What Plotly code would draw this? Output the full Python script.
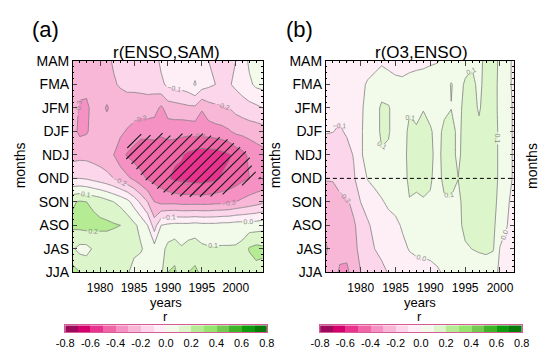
import numpy as np
import plotly.graph_objects as go

# ---------------- data ----------------
months = ["JJA", "JAS", "ASO", "SON", "OND", "NDJ", "DJF", "JFM", "FMA", "MAM"]
years_a = list(range(1976, 2005))
years_b = list(range(1975, 2003))

# r(ENSO,SAM): one list per month row (bottom JJA -> top MAM), one value per year
a_JJA = [0.24, 0.20, 0.17, 0.15, 0.14, 0.14, 0.13, 0.12, 0.11, 0.07, 0.05, 0.04, 0.05, 0.08, 0.20,
         0.22, 0.13, 0.20, 0.22, 0.18, 0.13, 0.12, 0.12, 0.12, 0.13, 0.13, 0.14, 0.17, 0.17]
a_JAS = [0.11, 0.07, 0.07, 0.11, 0.14, 0.14, 0.14, 0.14, 0.13, 0.12, 0.11, 0.07, 0.04, 0.06, 0.13,
         0.15, 0.11, 0.14, 0.15, 0.12, 0.11, 0.11, 0.11, 0.11, 0.11, 0.13, 0.21, 0.23, 0.22]
a_ASO = [0.22, 0.23, 0.24, 0.23, 0.22, 0.22, 0.21, 0.20, 0.16, 0.12, 0.07, 0.00, -0.15, 0.00, 0.02,
         0.03, 0.03, 0.03, 0.04, 0.03, 0.03, 0.03, 0.04, 0.04, 0.05, 0.05, 0.05, 0.05, 0.06]
a_SON = [0.19, 0.21, 0.20, 0.18, 0.16, 0.13, 0.10, 0.07, 0.03, -0.04, -0.12, -0.20, -0.30, -0.33, -0.33,
         -0.33, -0.34, -0.34, -0.34, -0.34, -0.34, -0.33, -0.33, -0.32, -0.30, -0.28, -0.26, -0.24, -0.22]
a_OND = [-0.10, -0.10, -0.11, -0.13, -0.15, -0.17, -0.20, -0.24, -0.28, -0.32, -0.37, -0.41, -0.43, -0.45, -0.49,
         -0.52, -0.53, -0.53, -0.54, -0.54, -0.53, -0.52, -0.49, -0.47, -0.45, -0.42, -0.40, -0.39, -0.38]
a_NDJ = [-0.24, -0.23, -0.23, -0.24, -0.25, -0.27, -0.30, -0.36, -0.41, -0.44, -0.46, -0.46, -0.47, -0.47, -0.47,
         -0.48, -0.49, -0.52, -0.54, -0.55, -0.55, -0.55, -0.53, -0.51, -0.46, -0.43, -0.38, -0.35, -0.33]
a_DJF = [-0.27, -0.32, -0.31, -0.27, -0.25, -0.25, -0.26, -0.28, -0.31, -0.34, -0.37, -0.37, -0.36, -0.38, -0.36,
         -0.36, -0.37, -0.37, -0.36, -0.37, -0.35, -0.34, -0.33, -0.31, -0.28, -0.27, -0.26, -0.25, -0.24]
a_JFM = [-0.26, -0.31, -0.32, -0.27, -0.27, -0.31, -0.27, -0.25, -0.24, -0.24, -0.25, -0.24, -0.26, -0.32, -0.25,
         -0.24, -0.23, -0.22, -0.22, -0.29, -0.24, -0.22, -0.21, -0.20, -0.17, -0.15, -0.13, -0.12, -0.10]
a_FMA = [-0.27, -0.28, -0.27, -0.26, -0.26, -0.24, -0.21, -0.19, -0.18, -0.18, -0.17, -0.17, -0.16, -0.12, -0.08,
         -0.07, -0.06, -0.04, 0.01, -0.05, -0.08, -0.10, -0.12, -0.11, -0.08, -0.05, -0.02, 0.02, 0.03]
a_MAM = [-0.26, -0.27, -0.27, -0.26, -0.25, -0.22, -0.19, -0.17, -0.16, -0.15, -0.14, -0.12, -0.14, -0.08, -0.05,
         -0.05, -0.04, -0.04, -0.05, -0.06, -0.10, -0.12, -0.12, -0.11, -0.10, -0.06, 0.02, 0.04, 0.05]

# r(O3,ENSO)
b_JJA = [-0.27, -0.27, -0.31, -0.32, -0.26, -0.20, -0.17, -0.14, -0.12, -0.095, -0.07, -0.05, -0.04, -0.04,
         -0.03, -0.02, -0.01, 0.01, 0.02, 0.03, 0.04, 0.05, 0.05, 0.04, 0.02, -0.01, -0.03, -0.05]
b_JAS = [-0.31, -0.27, -0.28, -0.27, -0.22, -0.18, -0.14, -0.10, -0.08, -0.06, -0.04, -0.02, 0.005, 0.02,
         0.02, 0.02, 0.03, 0.04, 0.05, 0.06, 0.09, 0.101, 0.11, 0.12, 0.11, -0.005, -0.02, -0.04]
b_ASO = [-0.27, -0.25, -0.24, -0.23, -0.21, -0.17, -0.11, -0.08, -0.06, -0.04, -0.02, 0.01, 0.03, 0.04,
         0.04, 0.04, 0.05, 0.05, 0.06, 0.08, 0.12, 0.13, 0.13, 0.13, 0.12, 0.05, 0.002, -0.03]
b_SON = [-0.24, -0.23, -0.22, -0.21, -0.18, -0.098, -0.07, -0.04, -0.01, 0.02, 0.03, 0.04, 0.095, 0.093,
         0.095, 0.09, 0.06, 0.09, 0.09, 0.08, 0.13, 0.14, 0.14, 0.14, 0.13, 0.07, 0.01, -0.02]
b_OND = [-0.195, -0.195, -0.17, -0.14, -0.11, -0.05, 0.005, 0.03, 0.05, 0.06, 0.05, 0.06, 0.12, 0.11,
         0.12, 0.11, 0.07, 0.12, 0.13, 0.101, 0.14, 0.15, 0.15, 0.15, 0.14, 0.08, 0.03, -0.01]
b_NDJ = [-0.14, -0.15, -0.14, -0.13, -0.095, -0.01, 0.03, 0.05, 0.09, 0.08, 0.05, 0.06, 0.13, 0.12,
         0.13, 0.12, 0.07, 0.13, 0.13, 0.08, 0.14, 0.15, 0.14, 0.15, 0.14, 0.08, 0.03, -0.01]
b_DJF = [-0.095, -0.098, -0.11, -0.09, -0.06, -0.01, 0.03, 0.05, 0.12, 0.11, 0.05, 0.06, 0.12, 0.11,
         0.12, 0.11, 0.07, 0.12, 0.13, 0.08, 0.13, 0.14, 0.12, 0.14, 0.14, 0.08, 0.03, -0.01]
b_JFM = [-0.07, -0.08, -0.08, -0.07, -0.05, -0.01, 0.02, 0.05, 0.12, 0.11, 0.05, 0.05, 0.09, 0.076,
         0.097, 0.07, 0.06, 0.08, 0.098, 0.08, 0.12, 0.13, 0.09, 0.14, 0.13, 0.08, 0.03, -0.01]
b_FMA = [-0.06, -0.06, -0.06, -0.05, -0.04, -0.02, 0.01, 0.03, 0.04, 0.03, 0.02, 0.02, 0.03, 0.03,
         0.04, 0.04, 0.05, 0.06, 0.105, 0.07, 0.11, 0.12, 0.08, 0.13, 0.13, 0.08, 0.03, -0.02]
b_MAM = [-0.05, -0.06, -0.08, -0.102, -0.07, -0.05, -0.04, -0.03, -0.01, -0.02, -0.03, -0.04, -0.03, -0.02,
         -0.02, -0.01, -0.005, 0.02, 0.04, 0.05, 0.07, 0.09, 0.08, 0.12, 0.12, 0.09, 0.03, -0.02]

r_enso_sam = [a_JJA, a_JAS, a_ASO, a_SON, a_OND, a_NDJ, a_DJF, a_JFM, a_FMA, a_MAM]
r_o3_enso = [b_JJA, b_JAS, b_ASO, b_SON, b_OND, b_NDJ, b_DJF, b_JFM, b_FMA, b_MAM]

year_ticks = [1980, 1985, 1990, 1995, 2000]
level_start, level_end, level_step = -0.8, 0.8, 0.1
cbar_ticks = [-0.8, -0.6, -0.4, -0.2, 0.0, 0.2, 0.4, 0.6, 0.8]
sig_threshold = -0.38   # correlations at or below this are hatched (significant)

band_colors = ["#9C0B5B", "#D4006B", "#E8338E", "#F065A6", "#F591C3", "#F9B7D8", "#FCD6EA", "#FEEEF6",
               "#F2FAEA", "#DDF5CB", "#B5EC93", "#94E46E", "#74C951", "#3FB428", "#0E9C0E", "#0A7A0A"]

# ---------------- geometry ----------------
W, H = 550, 361
FONT = "Liberation Sans, Arial, Helvetica, sans-serif"
PA = dict(l=66, r=262, t=55.5, b=276.5)
PB = dict(l=327, r=521, t=55.5, b=276.5)
CA = dict(l=58, r=266, t=332, b=339.5)
CB = dict(l=321, r=529, t=332, b=339.5)


def xdom(p):
    return [p["l"] / W, p["r"] / W]


def ydom(p):
    return [1 - p["b"] / H, 1 - p["t"] / H]


nb = len(band_colors)
zlo = level_start - level_step / 2
zhi = level_end + level_step / 2
centers = [level_start + level_step * (k + 0.5) for k in range(nb)]
colorscale = [[0.0, band_colors[0]]]
for c, col in zip(centers, band_colors):
    colorscale.append([(c - zlo) / (zhi - zlo), col])
colorscale.append([1.0, band_colors[-1]])


def interp2(xs, ys, z, xq, yq):
    ix = np.clip(np.searchsorted(xs, xq) - 1, 0, len(xs) - 2)
    iy = np.clip(np.searchsorted(ys, yq) - 1, 0, len(ys) - 2)
    tx = (xq - xs[ix]) / (xs[ix + 1] - xs[ix])
    ty = (yq - ys[iy]) / (ys[iy + 1] - ys[iy])
    return (z[iy, ix] * (1 - tx) * (1 - ty) + z[iy, ix + 1] * tx * (1 - ty)
            + z[iy + 1, ix] * (1 - tx) * ty + z[iy + 1, ix + 1] * tx * ty)


def hatch(xs, ys, z, p, rx, ry, thr, spacing=10.5):
    xs = np.asarray(xs, float)
    ys = np.asarray(ys, float)
    z = np.asarray(z, float)
    wpx, hpx = p["r"] - p["l"], p["b"] - p["t"]
    sx = wpx / (rx[1] - rx[0])
    sy = hpx / (ry[1] - ry[0])
    hx, hy = [], []
    for c in np.arange(-hpx, wpx, spacing):
        u = np.arange(max(0.0, c), min(wpx, hpx + c), 0.5)
        if len(u) < 2:
            continue
        v = u - c
        xd = rx[0] + u / sx
        yd = ry[0] + v / sy
        m = interp2(xs, ys, z, xd, yd) <= thr
        k = 0
        while k < len(m):
            if m[k]:
                j = k
                while j + 1 < len(m) and m[j + 1]:
                    j += 1
                if j > k:
                    hx += [xd[k], xd[j], None]
                    hy += [yd[k], yd[j], None]
                k = j + 1
            else:
                k += 1
    return hx, hy


yidx = list(range(len(months)))

def contour(x, z, xa, ya):
    return go.Contour(
        x=x, y=yidx, z=z, xaxis=xa, yaxis=ya,
        colorscale=colorscale, autocontour=False, showscale=False, hoverinfo="skip",
        contours=dict(start=level_start, end=level_end, size=level_step, coloring="fill",
                      showlabels=True, labelformat=".1f",
                      labelfont=dict(size=7, color="#8a8a8a", family=FONT)),
        line=dict(color="#7d7d7d", width=0.8, smoothing=0))


fig = go.Figure()
fig.add_trace(contour(years_a, r_enso_sam, "x", "y"))
fig.add_trace(contour(years_b, r_o3_enso, "x2", "y2"))

hx, hy = hatch(years_a, yidx, r_enso_sam, PA, [years_a[0], years_a[-1]], [0, 9], sig_threshold)
fig.add_trace(go.Scatter(x=hx, y=hy, xaxis="x", yaxis="y", mode="lines",
                         line=dict(color="#1a1a1a", width=1.1), hoverinfo="skip", showlegend=False))

for xa, ya in (("x3", "y3"), ("x4", "y4")):
    fig.add_trace(go.Heatmap(x=centers, y=[0], z=[centers], xaxis=xa, yaxis=ya,
                             colorscale=colorscale, zmin=zlo, zmax=zhi, showscale=False,
                             hoverinfo="skip"))

common_x = dict(tickvals=year_ticks, ticks="inside", ticklen=5, tickwidth=1, showline=True,
                linecolor="black", linewidth=1, mirror="ticks", showgrid=False, zeroline=False,
                ticklabelstandoff=4,
                tickfont=dict(size=12, color="black", family=FONT),
                minor=dict(dtick=1, ticks="inside", ticklen=2, tickwidth=1, tickcolor="black"))
common_y = dict(range=[0, 9], tickvals=yidx, ticktext=months, ticks="inside", ticklen=4, tickwidth=1,
                showline=True, linecolor="black", linewidth=1, mirror="ticks", showgrid=False,
                zeroline=False, tickfont=dict(size=14, color="black", family=FONT),
                minor=dict(dtick=0.25, ticks="inside", ticklen=1.5, tickcolor="black"))
cb_x = dict(range=[level_start, level_end], tickvals=cbar_ticks,
            ticktext=["%.1f" % t for t in cbar_ticks], ticks="", showline=True, mirror=True,
            linecolor="#d65a98", linewidth=1, showgrid=False, zeroline=False,
            tickfont=dict(size=11, color="black", family=FONT))
cb_y = dict(showticklabels=False, ticks="", showline=True, mirror=True, linecolor="#d65a98",
            linewidth=1, showgrid=False, zeroline=False, range=[-0.5, 0.5])

fig.update_layout(
    width=W, height=H, margin=dict(l=0, r=0, t=0, b=0),
    paper_bgcolor="white", plot_bgcolor="white", showlegend=False,
    font=dict(family=FONT, color="black"),
    xaxis=dict(domain=xdom(PA), range=[years_a[0], years_a[-1]], anchor="y", **common_x),
    yaxis=dict(domain=ydom(PA), anchor="x", **common_y),
    xaxis2=dict(domain=xdom(PB), range=[years_b[0], years_b[-1]], anchor="y2", **common_x),
    yaxis2=dict(domain=ydom(PB), anchor="x2", **common_y),
    xaxis3=dict(domain=xdom(CA), anchor="y3", **cb_x),
    yaxis3=dict(domain=ydom(CA), anchor="x3", **cb_y),
    xaxis4=dict(domain=xdom(CB), anchor="y4", **cb_x),
    yaxis4=dict(domain=ydom(CB), anchor="x4", **cb_y),
)

fig.add_shape(type="line", xref="x2 domain", x0=0, x1=1, yref="y2",
              y0=months.index("OND"), y1=months.index("OND"),
              line=dict(color="black", width=1, dash="4px,3px"))


def ann(text, xp, yp, size, angle=0):
    fig.add_annotation(text=text, x=xp / W, y=1 - yp / H, xref="paper", yref="paper",
                       showarrow=False, textangle=angle, xanchor="center", yanchor="middle",
                       font=dict(size=size, color="black", family=FONT))


ann("(a)", 38, 22, 22)
ann("(b)", 300, 22, 22)
ann("r(ENSO,SAM)", 163, 47, 17)
ann("r(O3,ENSO)", 426, 47, 17)
ann("months", 11, 165, 14, -90)
ann("months", 274, 165, 14, -90)
ann("months", 539, 165, 14, -90)
ann("years", 162, 308, 13)
ann("years", 424, 308, 13)
ann("r", 162, 323, 13)
ann("r", 424, 323, 13)

fig.write_html("out.html", config={"displayModeBar": False, "staticPlot": True},
               post_script="document.body.style.margin='0';document.body.style.overflow='hidden';")
